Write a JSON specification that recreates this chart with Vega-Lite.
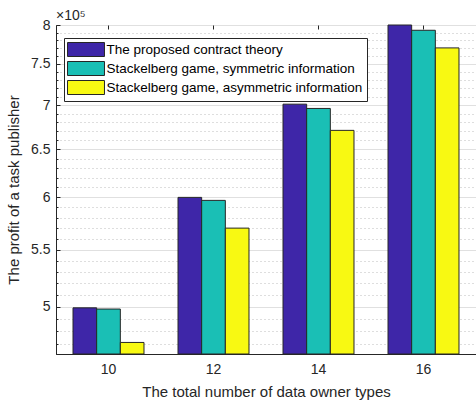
{
  "$schema": "https://vega.github.io/schema/vega-lite/v6.json",
  "autosize": "none",
  "padding": {"left": 56, "top": 25, "right": 0, "bottom": 51},
  "width": 420,
  "height": 329,
  "background": "white",
  "title": {"text": "×10⁵", "anchor": "start", "frame": "group", "offset": 2, "dy": 21, "baseline": "bottom", "font": "Liberation Sans", "fontSize": 14, "fontWeight": "normal", "color": "#262626"},
  "config": {
    "font": "Liberation Sans",
    "view": {"stroke": "#262626", "strokeWidth": 1},
    "axis": {"domainColor": "#262626", "tickColor": "#262626", "labelColor": "#262626", "titleColor": "#262626", "labelFont": "Liberation Sans", "titleFont": "Liberation Sans", "titleFontWeight": "normal"}
  },
  "data": {
    "values": [
      {"n": "10", "method": "The proposed contract theory", "profit": 499000},
      {"n": "10", "method": "Stackelberg game, symmetric information", "profit": 498000},
      {"n": "10", "method": "Stackelberg game, asymmetric information", "profit": 471000},
      {"n": "12", "method": "The proposed contract theory", "profit": 600000},
      {"n": "12", "method": "Stackelberg game, symmetric information", "profit": 597000},
      {"n": "12", "method": "Stackelberg game, asymmetric information", "profit": 570000},
      {"n": "14", "method": "The proposed contract theory", "profit": 701000},
      {"n": "14", "method": "Stackelberg game, symmetric information", "profit": 696000},
      {"n": "14", "method": "Stackelberg game, asymmetric information", "profit": 671000},
      {"n": "16", "method": "The proposed contract theory", "profit": 800000},
      {"n": "16", "method": "Stackelberg game, symmetric information", "profit": 793000},
      {"n": "16", "method": "Stackelberg game, asymmetric information", "profit": 770000}
    ]
  },
  "resolve": {"axis": {"x": "independent"}},
  "layer": [
    {
      "mark": {"type": "bar", "stroke": "#262626", "strokeWidth": 1},
      "encoding": {
        "x": {
          "field": "n", "type": "ordinal",
          "scale": {"paddingInner": 0.324, "paddingOuter": 0.162},
          "axis": {"title": "The total number of data owner types", "labelAngle": 0, "labelFontSize": 14, "titleFontSize": 15, "tickSize": -4, "labelPadding": 12, "titlePadding": 8, "grid": false}
        },
        "xOffset": {"field": "method", "type": "nominal", "sort": ["The proposed contract theory", "Stackelberg game, symmetric information", "Stackelberg game, asymmetric information"]},
        "y": {
          "field": "profit", "type": "quantitative",
          "scale": {"type": "log", "domain": [462000, 800000], "nice": false, "zero": false},
          "axis": {
            "title": "The profit of a task publisher",
            "titleFontSize": 15,
            "labelFontSize": 14,
            "values": [470000, 480000, 490000, 500000, 510000, 520000, 530000, 540000, 550000, 560000, 570000, 580000, 590000, 600000, 610000, 620000, 630000, 640000, 650000, 660000, 670000, 680000, 690000, 700000, 710000, 720000, 730000, 740000, 750000, 760000, 770000, 780000, 790000, 800000],
            "labelExpr": "datum.value % 50000 == 0 ? '' + (datum.value / 100000) : ''",
            "grid": true,
            "gridColor": {"condition": {"test": "datum.value % 50000 == 0", "value": "#e0e0e0"}, "value": "#bdbdbd"},
            "gridDash": {"condition": {"test": "datum.value % 50000 == 0", "value": []}, "value": [1, 3]},
            "gridWidth": 1,
            "tickSize": {"condition": {"test": "datum.value % 50000 == 0", "value": -4}, "value": -2},
            "labelPadding": 10,
            "titlePadding": 9
          }
        },
        "y2": {"datum": 462000},
        "color": {
          "field": "method", "type": "nominal",
          "sort": ["The proposed contract theory", "Stackelberg game, symmetric information", "Stackelberg game, asymmetric information"],
          "scale": {"domain": ["The proposed contract theory", "Stackelberg game, symmetric information", "Stackelberg game, asymmetric information"], "range": ["#3E26A8", "#1ABFB5", "#F8F912"]},
          "legend": {
            "title": null, "orient": "none", "legendX": 8, "legendY": 13,
            "fillColor": "white", "strokeColor": "#262626", "padding": 4,
            "symbolType": "M-2.64,-1H2.64V1H-2.64Z", "symbolSize": 196, "symbolStrokeColor": "#262626", "symbolStrokeWidth": 1, "symbolOpacity": 1,
            "symbolOffset": 10.5, "labelOffset": 13,
            "labelFontSize": 13.5, "labelColor": "#000000", "labelLimit": 400, "rowPadding": 0
          }
        }
      }
    },
    {
      "mark": {"type": "bar", "opacity": 0},
      "encoding": {
        "x": {
          "field": "n", "type": "ordinal",
          "axis": {"orient": "top", "title": null, "labels": false, "domain": false, "tickSize": -4, "ticks": true, "grid": false}
        },
        "y": {"field": "profit", "type": "quantitative"},
        "y2": {"datum": 462000}
      }
    }
  ]
}
